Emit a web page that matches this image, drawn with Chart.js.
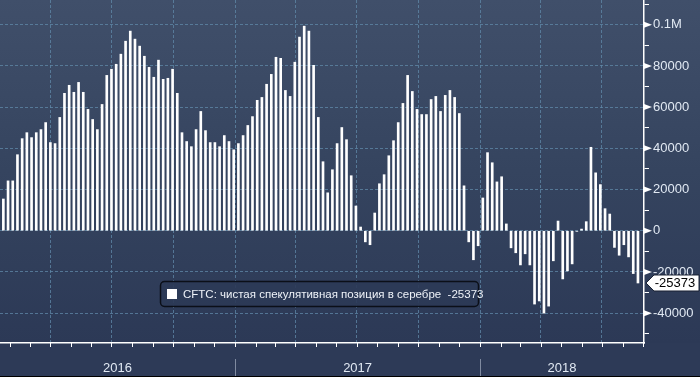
<!DOCTYPE html>
<html lang="ru">
<head>
<meta charset="utf-8">
<title>CFTC: серебро</title>
<script src="https://cdn.jsdelivr.net/npm/chart.js@4.4.1/dist/chart.umd.min.js"></script>
<style>
  html, body { margin: 0; padding: 0; background: #2d3a57; }
  #caixa { width: 700px; height: 377px; }
</style>
</head>
<body>
<div id="caixa"><canvas id="graficoPrata" width="700" height="377"></canvas></div>
<script>
// Dados: posição especulativa líquida (CFTC) em prata, uma barra por semana
const rotuloSerie = 'CFTC: чистая спекулятивная позиция в серебре';
const primeiraSemana = '2016-01-22';
const posicaoLiquida = [
    15400, 24200, 24200, 36900, 44700, 47600, 45200, 47600, 49100, 52500,
    42800, 42300, 55000, 66700, 70600, 67200, 72000, 67200, 58900, 54000,
    49100, 61300, 75400, 78400, 80800, 85700, 92000, 96900, 93000, 89600,
    84700, 79300, 74500, 82800, 73500, 74000, 78400, 66700, 47600, 43300,
    40800, 49100, 57900, 48600, 42800, 42800, 40800, 46200, 43300, 39300,
    42300, 46200, 51100, 55400, 63300, 64700, 71100, 75900, 84200, 83700,
    68100, 65200, 81800, 94000, 99300, 96900, 80300, 55000, 33500, 18400,
    29600, 42300, 50100, 44200, 26700, 12000, 1800, -5400, -6800, 8600,
    22800, 27200, 36400, 43700, 52500, 61800, 75400, 67600, 58900, 56400,
    56400, 63700, 65200, 57900, 65700, 68100, 64700, 56900, 21800, -5400,
    -14100, -7300, 15900, 37900, 33000, 23700, 26200, 3300, -8300, -10700,
    -16600, -11200, -16600, -35600, -34100, -40000, -36600, -14600, 4700, -23400,
    -19500, -16100, -300, 800, 4400, 40500, 28100, 22400, 10700, 8100,
    -8100, -11900, -6800, -12700, -20800, -25373
];

// Eixo Y (direita): marcas principais com rótulo e marcas menores
const valoresEixoY = [-40000, -20000, 0, 20000, 40000, 60000, 80000, 100000];
const rotulosEixoY = ['-40000', '-20000', '0', '20000', '40000', '60000', '80000', '0.1M'];
const marcasMenoresY = [-50000, -30000, -10000, 10000, 30000, 50000, 70000, 90000, 110000];

// Eixo X: anos, trimestres (grade) e limites visíveis
const anos = ['2016', '2017', '2018'];
const inicioAnos = ['2016-01-01', '2017-01-01', '2018-01-01', '2019-01-01'];
const trimestres = ['2016-04-01', '2016-07-01', '2016-10-01', '2017-01-01', '2017-04-01',
    '2017-07-01', '2017-10-01', '2018-01-01', '2018-04-01', '2018-07-01'];
const inicioEixo = '2016-01-17';
const fimEixo = '2018-09-02';

const corGrade = 'rgba(96, 138, 170, 0.75)';
const corTexto = '#e1e9f3';

// Converte uma data 'AAAA-MM-DD' em dias desde 2016-01-01
function dia(texto) {
    const p = texto.split('-').map(Number);
    return (Date.UTC(p[0], p[1] - 1, p[2]) - Date.UTC(2016, 0, 1)) / 86400000;
}

const semanas = posicaoLiquida.map((v, i) => dia(primeiraSemana) + 7 * i);

// Inícios de mês dentro do eixo, para as marquinhas de baixo
const meses = [];
for (let a = 2016; a <= 2018; a++) {
    for (let m = 1; m <= 12; m++) {
        const d = dia(`${a}-${String(m).padStart(2, '0')}-01`);
        if (d > dia(inicioEixo) && d <= dia(fimEixo)) meses.push(d);
    }
}

const pluginFundo = {
    id: 'fundo',
    beforeDraw(chart) {
        const ctx = chart.ctx;
        const area = chart.chartArea;
        const g = ctx.createLinearGradient(0, 0, 0, area.bottom);
        g.addColorStop(0, '#404f6a');
        g.addColorStop(0.5, '#35445f');
        g.addColorStop(1, '#2c3956');
        ctx.save();
        ctx.fillStyle = g;
        ctx.fillRect(0, 0, chart.width, area.bottom);
        ctx.fillStyle = '#2d3a57';
        ctx.fillRect(0, area.bottom, chart.width, chart.height - area.bottom);
        ctx.restore();
    }
};

const pluginExtras = {
    id: 'extras',
    afterDraw(chart) {
        const ctx = chart.ctx;
        const area = chart.chartArea;
        const x = chart.scales.x;
        const y = chart.scales.y;
        ctx.save();

        // marquinhas mensais abaixo do eixo X
        ctx.strokeStyle = '#ffffff';
        ctx.lineWidth = 1;
        meses.forEach(d => {
            const px = Math.round(x.getPixelForValue(d)) + 0.5;
            ctx.beginPath();
            ctx.moveTo(px, area.bottom);
            ctx.lineTo(px, area.bottom + 4);
            ctx.stroke();
        });

        // faixa dos anos: separadores e rótulos centrados na parte visível
        ctx.font = '13px "Liberation Sans", Arial, sans-serif';
        ctx.fillStyle = corTexto;
        ctx.textAlign = 'center';
        ctx.textBaseline = 'middle';
        anos.forEach((ano, i) => {
            const x0 = Math.max(area.left, x.getPixelForValue(dia(inicioAnos[i])));
            const x1 = Math.min(area.right, x.getPixelForValue(dia(inicioAnos[i + 1])));
            ctx.fillText(ano, (x0 + x1) / 2, area.bottom + 25);
            if (i > 0) {
                ctx.strokeStyle = '#7f8aa0';
                ctx.beginPath();
                ctx.moveTo(Math.round(x0) + 0.5, area.bottom + 16);
                ctx.lineTo(Math.round(x0) + 0.5, chart.height);
                ctx.stroke();
            }
        });

        // setinhas nas marcas principais do eixo Y
        ctx.fillStyle = '#ffffff';
        valoresEixoY.forEach(v => {
            const py = y.getPixelForValue(v);
            ctx.beginPath();
            ctx.moveTo(area.right, py - 3);
            ctx.lineTo(area.right + 8, py);
            ctx.lineTo(area.right, py + 3);
            ctx.closePath();
            ctx.fill();
        });

        // legenda (texto ajustado para ocupar a mesma largura do original)
        const ultimo = posicaoLiquida[posicaoLiquida.length - 1];
        ctx.fillStyle = 'rgba(44, 58, 86, 0.9)';
        ctx.strokeStyle = '#0b0f18';
        ctx.lineWidth = 1.5;
        ctx.beginPath();
        ctx.roundRect(160.5, 281.5, 318, 25, 4);
        ctx.fill();
        ctx.stroke();
        ctx.fillStyle = '#ffffff';
        ctx.fillRect(167, 289, 10, 10);
        ctx.fillStyle = '#eef2f8';
        ctx.textAlign = 'left';
        ctx.font = '11.5px "Liberation Sans", Arial, sans-serif';
        const textoLegenda = `${rotuloSerie}  ${ultimo}`;
        const largura = ctx.measureText(textoLegenda).width;
        if (largura < 289) {
            ctx.letterSpacing = ((289 - largura) / (textoLegenda.length - 1)).toFixed(2) + 'px';
        }
        ctx.fillText(textoLegenda, 183, 294.5);
        ctx.letterSpacing = '0px';

        // etiqueta do último valor
        const ty = y.getPixelForValue(ultimo);
        ctx.fillStyle = '#ffffff';
        ctx.strokeStyle = '#1a2233';
        ctx.lineWidth = 1;
        ctx.beginPath();
        ctx.moveTo(area.right + 2, ty);
        ctx.lineTo(area.right + 10, ty - 8);
        ctx.lineTo(chart.width - 1, ty - 8);
        ctx.lineTo(chart.width - 1, ty + 8);
        ctx.lineTo(area.right + 10, ty + 8);
        ctx.closePath();
        ctx.fill();
        ctx.stroke();
        ctx.fillStyle = '#000000';
        ctx.textAlign = 'center';
        ctx.font = '13px "Liberation Sans", Arial, sans-serif';
        ctx.fillText(String(ultimo), area.right + 31, ty + 0.5);

        // linha preta na borda inferior
        ctx.fillStyle = '#000000';
        ctx.fillRect(0, chart.height - 1, chart.width, 1);
        ctx.restore();
    }
};

function desenharGrafico() {
    Chart.defaults.font.family = '"Liberation Sans", Arial, sans-serif';
    const ctx = document.getElementById('graficoPrata').getContext('2d');
    window.graficoPrata = new Chart(ctx, {
        type: 'bar',
        data: {
            datasets: [{
                label: rotuloSerie,
                data: posicaoLiquida.map((v, i) => ({ x: semanas[i], y: v })),
                backgroundColor: '#ffffff',
                borderWidth: 0,
                barThickness: 2
            }]
        },
        options: {
            responsive: false,
            devicePixelRatio: 1,
            animation: false,
            layout: { padding: 0 },
            plugins: {
                legend: { display: false },
                tooltip: { enabled: false }
            },
            scales: {
                x: {
                    type: 'linear',
                    position: 'bottom',
                    offset: false,
                    min: dia(inicioEixo),
                    max: dia(fimEixo),
                    afterBuildTicks: s => { s.ticks = trimestres.map(t => ({ value: dia(t) })); },
                    ticks: { display: false },
                    grid: { offset: false, color: corGrade, lineWidth: 1, drawTicks: false },
                    border: { color: '#ffffff', width: 1.5, dash: [3, 2] },
                    afterFit: s => { s.height = 34; s.paddingLeft = 0; s.paddingRight = 0; }
                },
                y: {
                    type: 'linear',
                    position: 'right',
                    min: -54500,
                    max: 112000,
                    afterBuildTicks: s => {
                        s.ticks = valoresEixoY.concat(marcasMenoresY)
                            .sort((a, b) => a - b)
                            .map(v => ({ value: v }));
                    },
                    ticks: {
                        color: corTexto,
                        font: { size: 13 },
                        padding: 4,
                        callback: v => {
                            const i = valoresEixoY.indexOf(v);
                            return i >= 0 ? rotulosEixoY[i] : '';
                        }
                    },
                    grid: {
                        color: c => valoresEixoY.includes(c.tick.value) ? corGrade : 'transparent',
                        lineWidth: 1,
                        drawTicks: true,
                        tickLength: 5,
                        tickColor: '#ffffff'
                    },
                    border: { color: '#ffffff', width: 1.5, dash: [3, 2] },
                    afterFit: s => { s.width = 56; s.paddingTop = 0; s.paddingBottom = 0; }
                }
            }
        },
        plugins: [pluginFundo, pluginExtras]
    });
}

document.addEventListener('DOMContentLoaded', () => {
    desenharGrafico();
});
</script>
</body>
</html>
